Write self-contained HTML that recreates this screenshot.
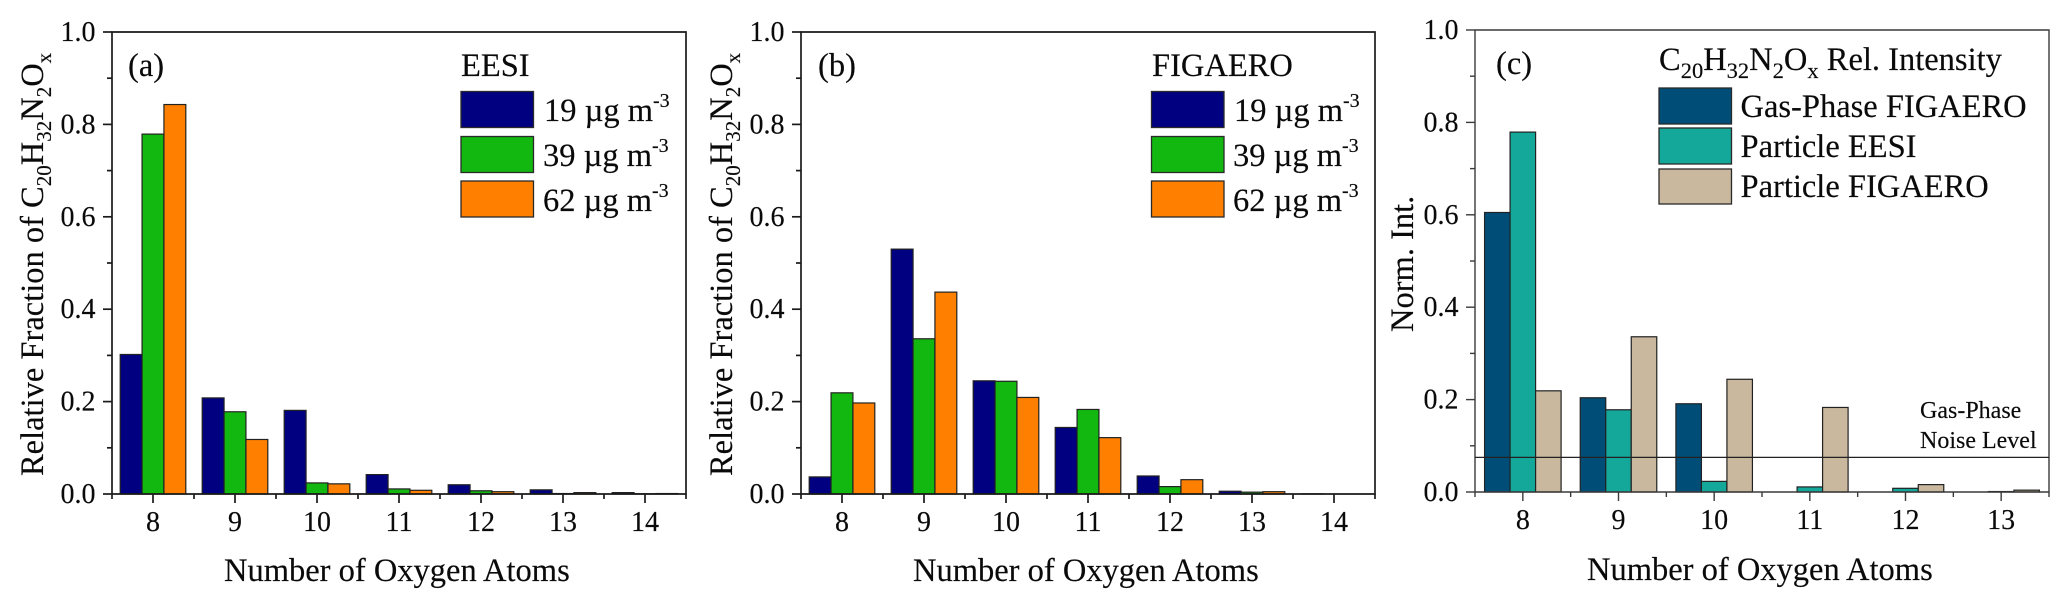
<!DOCTYPE html>
<html lang="en">
<head>
<meta charset="utf-8">
<title>C20H32N2Ox relative fractions</title>
<style>
html,body{margin:0;padding:0;background:#fff;width:2067px;height:606px;overflow:hidden}
svg{display:block;filter:blur(0.35px)}
text{font-family:"Liberation Serif",serif;fill:#0a0a0a;stroke:#0a0a0a;stroke-width:0.15}
.t{font-size:32.5px}
.sw{stroke:#2a2a2a;stroke-width:1.3}
</style>
</head>
<body>
<svg id="chart" xmlns="http://www.w3.org/2000/svg" width="2067" height="606" viewBox="0 0 2067 606">
  <rect x="0" y="0" width="2067" height="606" fill="#fff"/>
  <g id="panel-a">
    <g id="plot-a"></g>
    <text class="t" transform="translate(43 476) rotate(-90)">Relative Fraction of C<tspan font-size="21" dy="8">20</tspan><tspan dy="-8">H</tspan><tspan font-size="21" dy="8">32</tspan><tspan dy="-8">N</tspan><tspan font-size="21" dy="8">2</tspan><tspan dy="-8">O</tspan><tspan font-size="21" dy="8">x</tspan></text>
    <text class="t" x="224" y="581">Number of Oxygen Atoms</text>
    <text class="t" x="128" y="76">(a)</text>
    <g>
      <text class="t" x="461" y="76">EESI</text>
      <rect class="sw" x="461" y="91.5" width="72.5" height="36" fill="#000080"/>
      <rect class="sw" x="461" y="136.5" width="72.5" height="36" fill="#12b80f"/>
      <rect class="sw" x="461" y="181" width="72.5" height="36" fill="#ff8000"/>
      <text class="t" x="544" y="121">19 µg m<tspan font-size="20" dy="-14">-3</tspan></text>
      <text class="t" x="543" y="166">39 µg m<tspan font-size="20" dy="-14">-3</tspan></text>
      <text class="t" x="543" y="211">62 µg m<tspan font-size="20" dy="-14">-3</tspan></text>
    </g>
  </g>
  <g id="panel-b">
    <g id="plot-b"></g>
    <text class="t" transform="translate(732 476) rotate(-90)">Relative Fraction of C<tspan font-size="21" dy="8">20</tspan><tspan dy="-8">H</tspan><tspan font-size="21" dy="8">32</tspan><tspan dy="-8">N</tspan><tspan font-size="21" dy="8">2</tspan><tspan dy="-8">O</tspan><tspan font-size="21" dy="8">x</tspan></text>
    <text class="t" x="913" y="581">Number of Oxygen Atoms</text>
    <text class="t" x="818" y="76">(b)</text>
    <g>
      <text class="t" x="1152" y="76">FIGAERO</text>
      <rect class="sw" x="1151.5" y="91.5" width="72.5" height="36" fill="#000080"/>
      <rect class="sw" x="1151.5" y="136.5" width="72.5" height="36" fill="#12b80f"/>
      <rect class="sw" x="1151.5" y="181" width="72.5" height="36" fill="#ff8000"/>
      <text class="t" x="1234" y="121">19 µg m<tspan font-size="20" dy="-14">-3</tspan></text>
      <text class="t" x="1233" y="166">39 µg m<tspan font-size="20" dy="-14">-3</tspan></text>
      <text class="t" x="1233" y="211">62 µg m<tspan font-size="20" dy="-14">-3</tspan></text>
    </g>
  </g>
  <g id="panel-c">
    <g id="plot-c"></g>
    <text class="t" transform="translate(1413 332) rotate(-90)">Norm. Int.</text>
    <text class="t" x="1587" y="580">Number of Oxygen Atoms</text>
    <text class="t" x="1496" y="74">(c)</text>
    <text font-size="24" x="1920" y="418">Gas-Phase</text>
    <text font-size="24" x="1920" y="448">Noise Level</text>
    <g>
      <text class="t" x="1659" y="70">C<tspan font-size="22.5" dy="8">20</tspan><tspan dy="-8">H</tspan><tspan font-size="22.5" dy="8">32</tspan><tspan dy="-8">N</tspan><tspan font-size="22.5" dy="8">2</tspan><tspan dy="-8">O</tspan><tspan font-size="22.5" dy="8">x</tspan><tspan dy="-8"> Rel. Intensity</tspan></text>
      <rect class="sw" x="1659" y="88" width="72.5" height="36" fill="#004e78"/>
      <rect class="sw" x="1659" y="128" width="72.5" height="36" fill="#14a89a"/>
      <rect class="sw" x="1659" y="169" width="72.5" height="35" fill="#c9b89e"/>
      <text class="t" x="1740.5" y="117">Gas-Phase FIGAERO</text>
      <text class="t" x="1740.5" y="157">Particle EESI</text>
      <text class="t" x="1740.5" y="197">Particle FIGAERO</text>
    </g>
  </g>
</svg>
<script>
// Data
const categoriesAB = ['8', '9', '10', '11', '12', '13', '14'];
const categoriesC = ['8', '9', '10', '11', '12', '13'];
const yTickLabels = ['0.0', '0.2', '0.4', '0.6', '0.8', '1.0'];
const eesi19 = [0.302, 0.208, 0.181, 0.042, 0.020, 0.009, 0.003];
const eesi39 = [0.779, 0.178, 0.024, 0.011, 0.007, 0.001, 0.0005];
const eesi62 = [0.843, 0.118, 0.022, 0.008, 0.005, 0.003, 0.001];
const figaero19 = [0.037, 0.530, 0.245, 0.144, 0.039, 0.006, 0.0003];
const figaero39 = [0.219, 0.336, 0.244, 0.183, 0.016, 0.004, 0];
const figaero62 = [0.197, 0.437, 0.209, 0.122, 0.031, 0.005, 0];
const gasFigaero = [0.605, 0.204, 0.191, 0, 0, 0];
const particleEesi = [0.779, 0.178, 0.023, 0.011, 0.008, 0.001];
const particleFigaero = [0.219, 0.336, 0.244, 0.183, 0.016, 0.004];
const noiseLevel = [0.075];

const NS = 'http://www.w3.org/2000/svg';
function mk(parent, tag, attrs, txt) {
  const el = document.createElementNS(NS, tag);
  for (const k in attrs) el.setAttribute(k, attrs[k]);
  if (txt !== undefined) el.textContent = txt;
  parent.appendChild(el);
  return el;
}

function drawPanel(o) {
  const g = document.getElementById(o.id);
  const n = o.cats.length;
  const sx = i => o.left + (o.right - o.left) * (i + 0.5) / n;
  const sy = v => o.bottom - (o.bottom - o.top) * v;
  const unit = (o.right - o.left) / n;
  const barW = unit * 0.8 / o.series.length;

  o.series.forEach((vals, s) => {
    vals.forEach((v, i) => {
      if (v <= 0) return;
      const x = sx(i) - unit * 0.4 + s * barW;
      const b = mk(g, 'rect', {x: x, y: sy(v), width: barW, height: o.bottom - sy(v), fill: o.colors[s], stroke: '#222', 'stroke-width': 1.2});
      
      
    });
  });

  const lineStyle = {stroke: o.axisColor, 'stroke-width': o.axisWidth, fill: 'none'};
  const frame = mk(g, 'path', Object.assign({d: 'M' + o.left + ' ' + o.bottom + 'V' + o.top + 'H' + o.right + 'V' + o.bottom + 'H' + o.left}, lineStyle));
  
  

  yTickLabels.forEach((lab, i) => {
    const v = parseFloat(lab);
    const t = mk(g, 'line', Object.assign({x1: o.left - 9, x2: o.left, y1: sy(v), y2: sy(v)}, lineStyle));
    
    
    const l = mk(g, 'text', {x: o.left - 16.5, y: sy(v) + 9, 'text-anchor': 'end', 'font-size': 28}, lab);
    
    
    if (i < yTickLabels.length - 1) {
      const m = sy(v + 0.1);
      const mt = mk(g, 'line', Object.assign({x1: o.left - 5, x2: o.left, y1: m, y2: m}, lineStyle));
      
      
    }
  });

  o.cats.forEach((c, i) => {
    const x = sx(i);
    const t = mk(g, 'line', Object.assign({x1: x, x2: x, y1: o.bottom, y2: o.bottom + 9}, lineStyle));
    
    
    const l = mk(g, 'text', {x: x, y: o.bottom + 37, 'text-anchor': 'middle', 'font-size': 28}, c);
    
    
  });
  for (let i = 0; i <= n; i++) {
    const x = o.left + unit * i;
    const mt = mk(g, 'line', Object.assign({x1: x, x2: x, y1: o.bottom, y2: o.bottom + 5}, lineStyle));
    
    
  }

  if (o.noise) {
    const nl = mk(g, 'line', {x1: o.left, x2: o.right, y1: sy(o.noise[0]), y2: sy(o.noise[0]), stroke: '#222', 'stroke-width': 1.3});
    
    
  }
}

const massColors = ['#000080', '#12b80f', '#ff8000'];
const massNames = ['19ug', '39ug', '62ug'];
drawPanel({id: 'plot-a', left: 112, right: 686, top: 32, bottom: 494, cats: categoriesAB,
  series: [eesi19, eesi39, eesi62], colors: massColors, names: massNames, axisColor: '#1a1a1a', axisWidth: 1.7});
drawPanel({id: 'plot-b', left: 801, right: 1375, top: 32, bottom: 494, cats: categoriesAB,
  series: [figaero19, figaero39, figaero62], colors: massColors, names: massNames, axisColor: '#1a1a1a', axisWidth: 1.7});
drawPanel({id: 'plot-c', left: 1475, right: 2049, top: 30, bottom: 492, cats: categoriesC,
  series: [gasFigaero, particleEesi, particleFigaero], colors: ['#004e78', '#14a89a', '#c9b89e'],
  names: ['gas-figaero', 'particle-eesi', 'particle-figaero'], axisColor: '#3a3a3a', axisWidth: 1.4, noise: noiseLevel});
</script>
</body>
</html>
